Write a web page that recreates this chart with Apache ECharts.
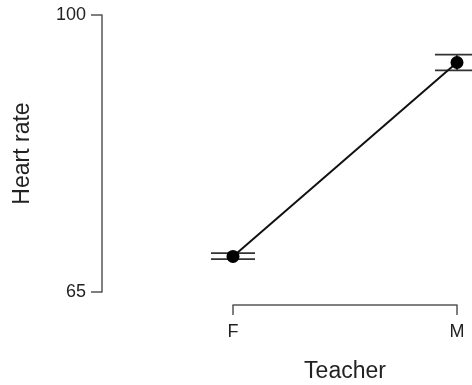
<!DOCTYPE html>
<html lang="en">
<head>
    <meta charset="UTF-8">
    <script src="https://cdn.jsdelivr.net/npm/echarts@6/dist/echarts.min.js"></script>
    <style>
        html, body {margin:0; padding:0; background:#fff;}
        #chart {width:472px; height:385px;}
    </style>
    <title>Heart rate by teacher</title>
</head>
<body>
    <div id="chart"></div>
    <script>
        // data
        const teachers = ['F', 'M'];
        const heartMean = [69.5, 94.0];
        const heartLow = [69.15, 93.0];
        const heartHigh = [69.9, 95.0];
        const yTicks = [65, 100];

        let chart = echarts.init(document.getElementById('chart'));

        let errData = teachers.map((t, i) => [i, heartLow[i], heartHigh[i]]);

        let options = {
            animation: false,
            textStyle: {fontFamily: 'Liberation Sans'},
            grid: {left: 233, right: 15, top: 15, bottom: 93, outerBoundsMode: 'none'},
            xAxis: {
                type: 'category',
                data: teachers,
                boundaryGap: false,
                offset: 13,
                name: 'Teacher',
                nameLocation: 'middle',
                nameGap: 55,
                nameTextStyle: {fontSize: 23, color: '#222'},
                axisLine: {lineStyle: {color: '#555', width: 1.5}},
                axisTick: {length: 10, lineStyle: {color: '#555', width: 1.5}},
                axisLabel: {fontSize: 18, color: '#222', margin: 18},
                splitLine: {show: false}
            },
            yAxis: {
                type: 'value',
                min: yTicks[0],
                max: yTicks[1],
                interval: yTicks[1] - yTicks[0],
                offset: 131,
                name: 'Heart rate',
                nameLocation: 'middle',
                nameGap: 68,
                nameRotate: 90,
                nameTextStyle: {fontSize: 23, color: '#222'},
                axisLine: {show: true, lineStyle: {color: '#555', width: 1.5}},
                axisTick: {show: true, length: 11, lineStyle: {color: '#555', width: 1.5}},
                axisLabel: {fontSize: 18, color: '#222', margin: 16},
                splitLine: {show: false}
            },
            series: [
                {
                    type: 'custom',
                    data: errData,
                    z: 1,
                    renderItem: function (params, api) {
                        let x = api.coord([api.value(0), api.value(1)])[0];
                        let yl = api.coord([api.value(0), api.value(1)])[1];
                        let yh = api.coord([api.value(0), api.value(2)])[1];
                        let hw = 22;
                        let st = {stroke: '#333', lineWidth: 1.8};
                        return {
                            type: 'group',
                            children: [
                                {type: 'line', shape: {x1: x - hw, y1: yl, x2: x + hw, y2: yl}, style: st},
                                {type: 'line', shape: {x1: x - hw, y1: yh, x2: x + hw, y2: yh}, style: st},
                                {type: 'line', shape: {x1: x, y1: yl, x2: x, y2: yh}, style: st}
                            ]
                        };
                    }
                },
                {
                    type: 'line',
                    data: heartMean,
                    z: 2,
                    symbol: 'circle',
                    symbolSize: 13,
                    lineStyle: {color: '#111', width: 2},
                    itemStyle: {color: '#000'}
                }
            ]
        };
        chart.setOption(options);
    </script>
</body>
</html>
